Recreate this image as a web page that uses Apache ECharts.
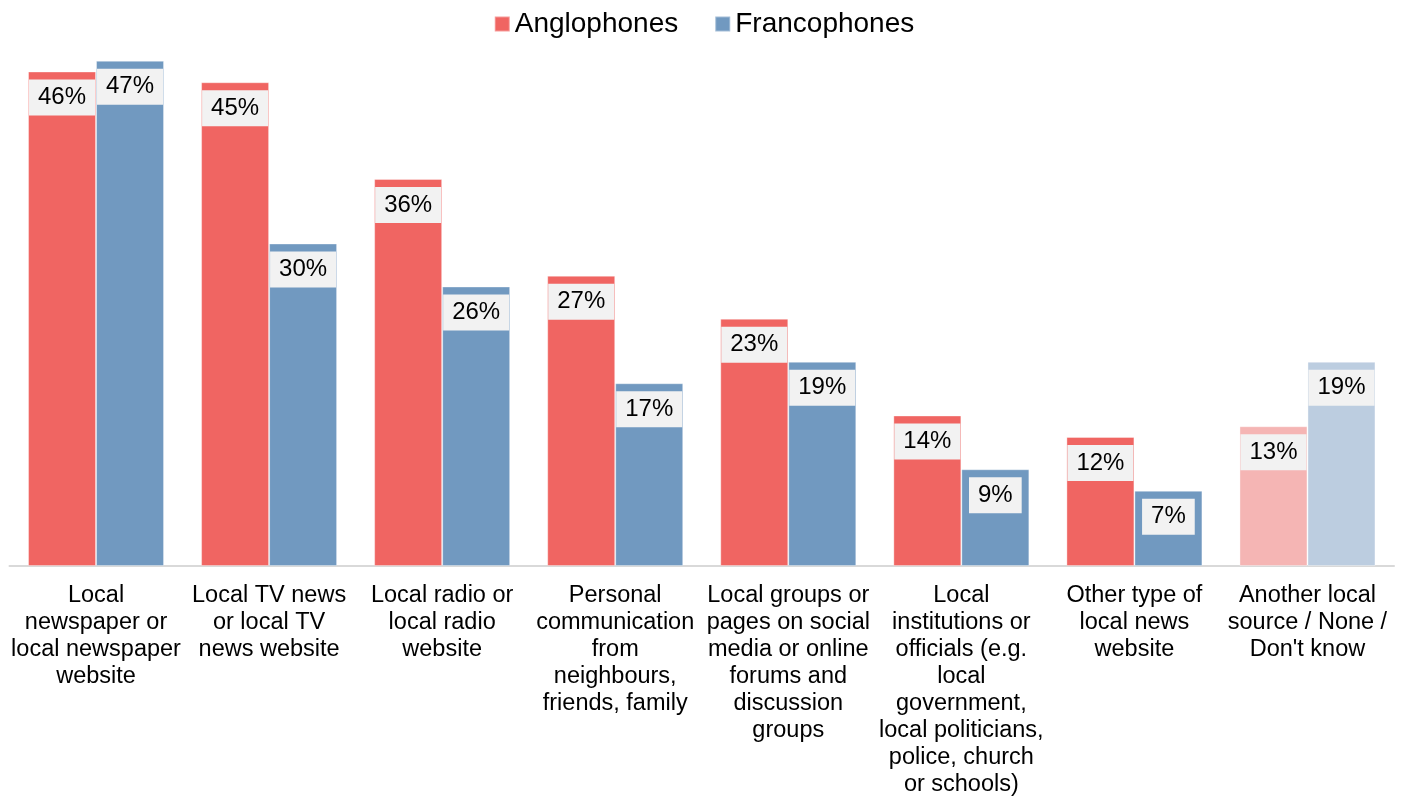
<!DOCTYPE html>
<html>
<head>
<meta charset="utf-8">
<script src="https://cdn.jsdelivr.net/npm/echarts@6/dist/echarts.min.js"></script>
<style>
  html, body { margin: 0; padding: 0; background: #ffffff; }
  #chart { width: 1408px; height: 803px; }
</style>
</head>
<body>
<div id="chart"></div>
<script>
// Local news sources used, by language group (%)
const categories = [
  "Local\nnewspaper or\nlocal newspaper\nwebsite",
  "Local TV news\nor local TV\nnews website",
  "Local radio or\nlocal radio\nwebsite",
  "Personal\ncommunication\nfrom\nneighbours,\nfriends, family",
  "Local groups or\npages on social\nmedia or online\nforums and\ndiscussion\ngroups",
  "Local\ninstitutions or\nofficials (e.g.\nlocal\ngovernment,\nlocal politicians,\npolice, church\nor schools)",
  "Other type of\nlocal news\nwebsite",
  "Another local\nsource / None /\nDon't know"
];
const anglophones  = [46, 45, 36, 27, 23, 14, 12, 13];
const francophones = [47, 30, 26, 17, 19, 9, 7, 19];
const seriesNames = ["Anglophones", "Francophones"];

const FONT = "'Liberation Sans', Arial, sans-serif";
const RED = "#F06562", BLUE = "#7199C0";
const RED_LIGHT = "#F5B5B4", BLUE_LIGHT = "#BCCDE0";
const fadedIndex = categories.length - 1;   // last group drawn in paler tints

function withTint(values, tint) {
  return values.map((v, i) => i === fadedIndex
    ? { value: v, itemStyle: { color: tint } }
    : v);
}

const labelStyle = {
  show: true,
  position: "insideTop",
  distance: 8,
  formatter: "{c}%",
  fontFamily: FONT,
  fontSize: 24,
  color: "#000",
  backgroundColor: "#F2F2F2",
  padding: [6, 9],
  lineHeight: 24
};

const barEdge = { borderColor: "rgba(255,255,255,0.35)", borderWidth: 1 };

const chart = echarts.init(document.getElementById("chart"), null, { renderer: "canvas" });
chart.setOption({
  animation: false,
  legend: {
    top: 5,
    left: "center",
    itemWidth: 15,
    itemHeight: 15,
    itemGap: 36,
    icon: "rect",
    textStyle: { fontFamily: FONT, fontSize: 28, color: "#000" },
    data: seriesNames
  },
  grid: { left: 9.5, right: 14, top: 28.5, bottom: 237, containLabel: false },
  xAxis: {
    type: "category",
    data: categories,
    axisLine: { show: true, lineStyle: { color: "#D9D9D9", width: 2 } },
    axisTick: { show: false },
    axisLabel: {
      interval: 0,
      margin: 16,
      fontFamily: FONT,
      fontSize: 23.5,
      lineHeight: 27,
      color: "#000",
      align: "center"
    }
  },
  yAxis: {
    type: "value",
    min: 0,
    max: 50,
    show: false,
    splitLine: { show: false }
  },
  series: [
    {
      name: seriesNames[0],
      type: "bar",
      barWidth: 68,
      barGap: "0%",
      color: RED,
      itemStyle: barEdge,
      data: withTint(anglophones, RED_LIGHT),
      label: labelStyle
    },
    {
      name: seriesNames[1],
      type: "bar",
      barWidth: 68,
      barGap: "0%",
      color: BLUE,
      itemStyle: barEdge,
      data: withTint(francophones, BLUE_LIGHT),
      label: labelStyle
    }
  ]
});
</script>
</body>
</html>
